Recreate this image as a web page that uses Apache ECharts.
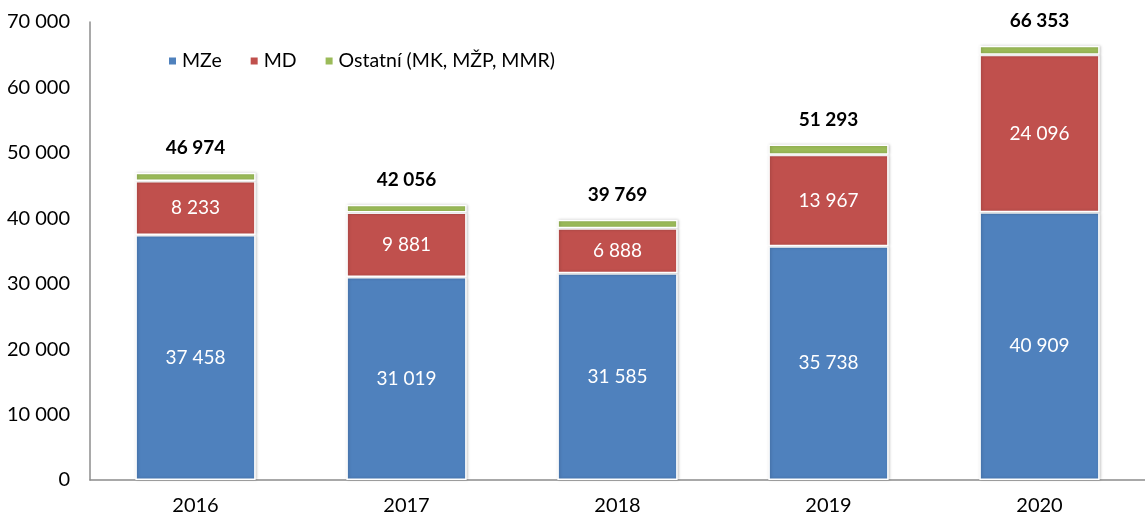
<!DOCTYPE html>
<html>
	<head>
		<meta charset="utf-8" />
		<title></title>
		<script src="https://cdn.jsdelivr.net/npm/echarts@6/dist/echarts.min.js"></script>
		<style>
			body { margin: 0; background: #fff; }
		</style>
	</head>
	<body>
		<div id="chart" style="width: 1145px; height: 515px;"></div>
		<script>
		var years = ['2016', '2017', '2018', '2019', '2020'];
		var mze = [37458, 31019, 31585, 35738, 40909];
		var md = [8233, 9881, 6888, 13967, 24096];
		var ostatni = [1283, 1156, 1296, 1588, 1348];
		var totals = [46974, 42056, 39769, 51293, 66353];

		var font = 'Lato';

		// cislo s mezerou jako oddelovacem tisicu
		function fmt(v) {
			return String(v).replace(/\B(?=(\d{3})+(?!\d))/g, ' ');
		}

		var myChart = echarts.init(document.getElementById('chart'));
		var option = {
			animation: false,
			textStyle: { fontFamily: font },
			legend: {
				left: 162,
				top: 46,
				itemWidth: 9,
				itemHeight: 9,
				itemGap: 27,
				icon: 'rect',
				textStyle: { fontSize: 19.5, color: '#000', fontFamily: font },
				data: ['MZe', 'MD', 'Ostatní (MK, MŽP, MMR)']
			},
			grid: {
				left: 90,
				right: 0,
				top: 22,
				bottom: 35,
				outerBoundsMode: 'none'
			},
			xAxis: {
				type: 'category',
				data: years,
				axisLine: { lineStyle: { color: '#8c8c8c', width: 1.5 } },
				axisTick: { show: false },
				axisLabel: { fontSize: 20, color: '#000', margin: 16, fontFamily: font }
			},
			yAxis: {
				type: 'value',
				min: 0,
				max: 70000,
				interval: 10000,
				axisLine: { show: true, lineStyle: { color: '#8c8c8c', width: 1.5 } },
				axisTick: { show: false },
				splitLine: { show: false },
				axisLabel: {
					fontSize: 20,
					color: '#000',
					margin: 20,
					fontFamily: font,
					formatter: function (v) { return fmt(v); }
				}
			},
			series: [
				{
					name: 'MZe',
					type: 'bar',
					stack: 'a',
					barWidth: '57%',
					data: mze,
					itemStyle: {
						color: '#4F81BD',
						borderColor: '#fff',
						borderWidth: 1.5,
						shadowColor: 'rgba(0,0,0,0.2)',
						shadowBlur: 3,
						shadowOffsetX: 1
					},
					label: {
						show: true,
						position: 'inside',
						color: '#fff',
						fontSize: 19,
						fontFamily: font,
						formatter: function (p) { return fmt(p.value); }
					}
				},
				{
					name: 'MD',
					type: 'bar',
					stack: 'a',
					data: md,
					itemStyle: {
						color: '#C0504D',
						borderColor: '#fff',
						borderWidth: 1.5,
						shadowColor: 'rgba(0,0,0,0.2)',
						shadowBlur: 3,
						shadowOffsetX: 1
					},
					label: {
						show: true,
						position: 'inside',
						color: '#fff',
						fontSize: 19,
						fontFamily: font,
						formatter: function (p) { return fmt(p.value); }
					}
				},
				{
					name: 'Ostatní (MK, MŽP, MMR)',
					type: 'bar',
					stack: 'a',
					data: ostatni,
					itemStyle: {
						color: '#9BBB59',
						borderColor: '#fff',
						borderWidth: 1.5,
						shadowColor: 'rgba(0,0,0,0.2)',
						shadowBlur: 3,
						shadowOffsetX: 1
					},
					label: {
						show: true,
						position: 'top',
						distance: 15,
						color: '#000',
						fontSize: 19,
						fontWeight: 'bold',
						fontFamily: font,
						formatter: function (p) { return fmt(totals[p.dataIndex]); }
					}
				}
			]
		};
		myChart.setOption(option);
		</script>
	</body>
</html>
